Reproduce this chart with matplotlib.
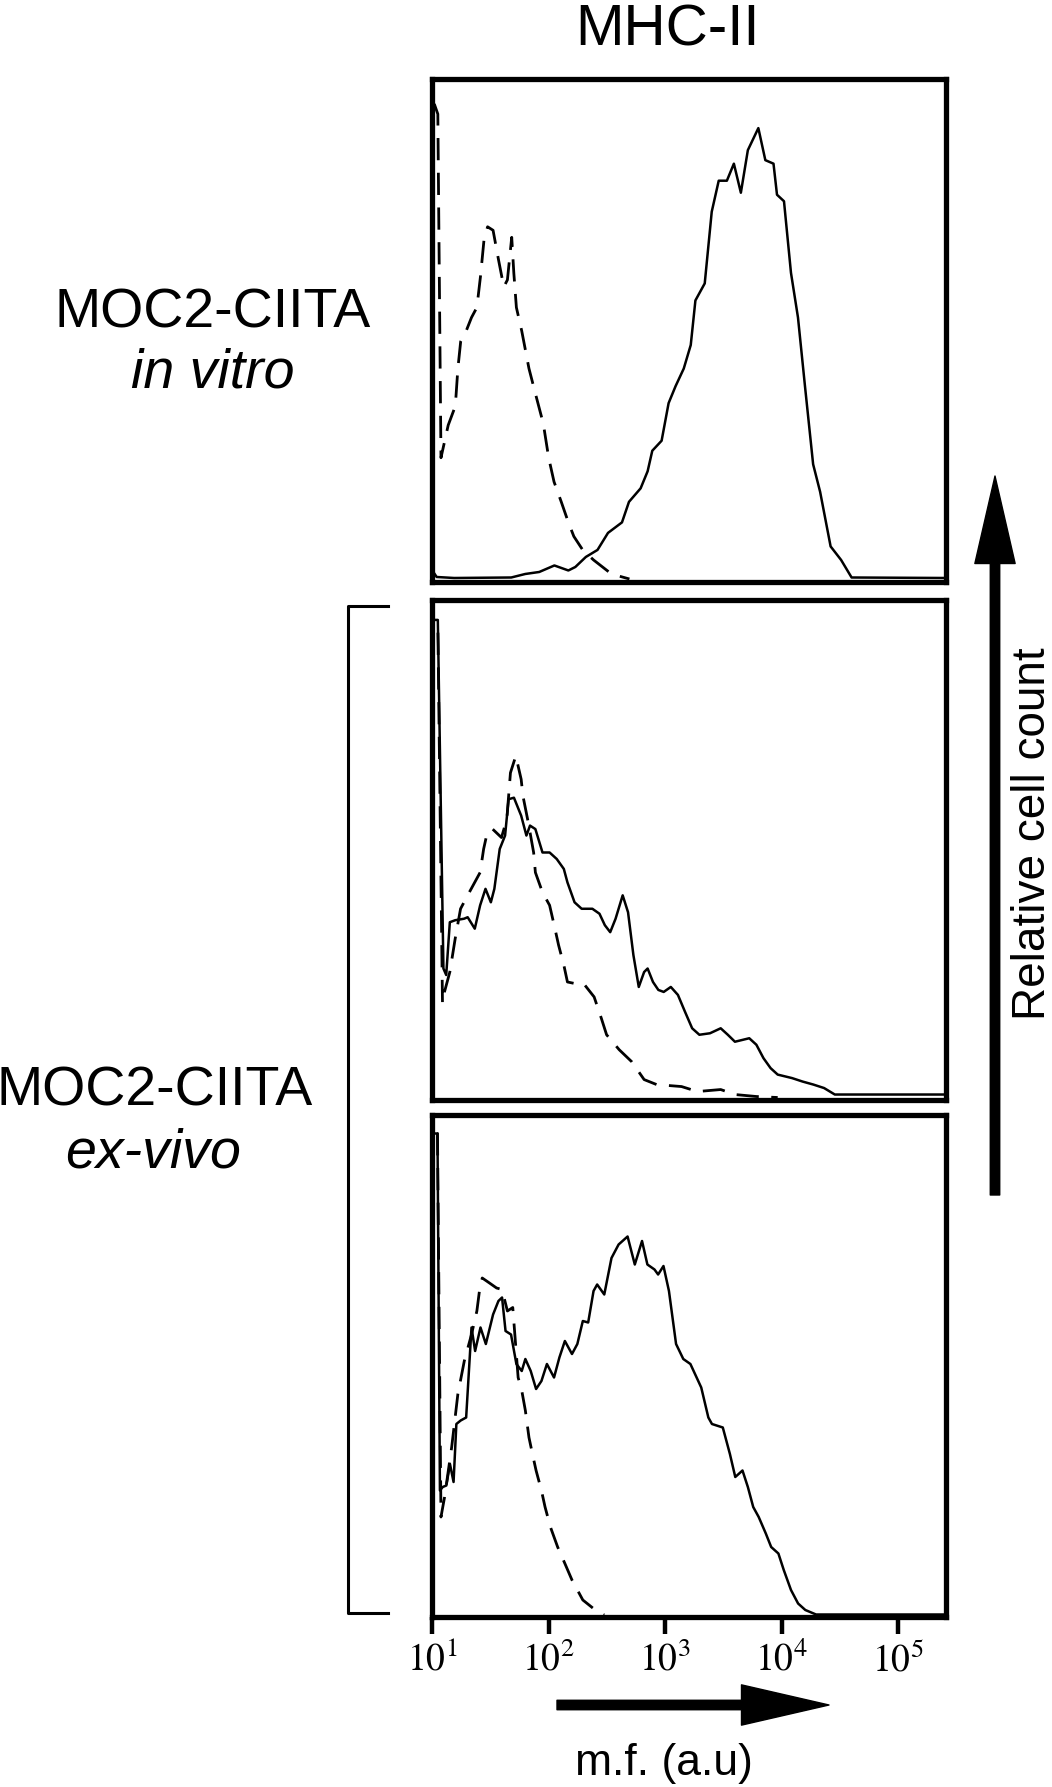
#!/usr/bin/env python3
"""MHC-II flow histograms: MOC2-CIITA in vitro vs ex-vivo."""
import matplotlib
matplotlib.use("Agg")
import matplotlib.pyplot as plt
import numpy as np
from matplotlib.lines import Line2D
from matplotlib.patches import FancyArrowPatch, ArrowStyle
from matplotlib.ticker import NullLocator

plt.rcParams["font.family"] = ["Liberation Sans", "DejaVu Sans"]
plt.rcParams["mathtext.fontset"] = "stix"

# x values are log10(m.f.), y values are relative cell count (0..1)
INVITRO_SOLID_LOG = [1.0, 1.04, 1.19, 1.68, 1.80, 1.92, 2.05, 2.17, 2.23, 2.32,
                     2.42, 2.51, 2.63, 2.69, 2.79, 2.85, 2.89, 2.97, 3.03, 3.09,
                     3.16, 3.22, 3.26, 3.34, 3.40, 3.46, 3.53, 3.59, 3.65, 3.71,
                     3.80, 3.86, 3.93, 3.96, 4.02, 4.08, 4.14, 4.20, 4.27, 4.33,
                     4.42, 4.51, 4.60, 5.41]
INVITRO_SOLID_CNT = [0.02, 0.006, 0.004, 0.005, 0.012, 0.016, 0.029, 0.019, 0.026, 0.046,
                     0.060, 0.094, 0.115, 0.156, 0.183, 0.217, 0.258, 0.278, 0.353, 0.387,
                     0.422, 0.469, 0.558, 0.592, 0.735, 0.797, 0.797, 0.831, 0.773, 0.858,
                     0.902, 0.838, 0.831, 0.769, 0.756, 0.613, 0.524, 0.387, 0.231, 0.176,
                     0.067, 0.040, 0.005, 0.004]
INVITRO_DASH_LOG = [1.0, 1.005, 1.05, 1.077, 1.139, 1.200, 1.222, 1.246, 1.293, 1.339,
                    1.385, 1.416, 1.447, 1.477, 1.524, 1.570, 1.616, 1.647, 1.684, 1.702,
                    1.724, 1.770, 1.832, 1.893, 1.955, 2.001, 2.047, 2.109, 2.170, 2.217,
                    2.293, 2.386, 2.540, 2.694]
INVITRO_DASH_CNT = [0.0, 0.96, 0.93, 0.244, 0.309, 0.347, 0.422, 0.476, 0.497, 0.524,
                    0.544, 0.606, 0.681, 0.705, 0.698, 0.640, 0.585, 0.599, 0.684, 0.613,
                    0.544, 0.497, 0.422, 0.367, 0.312, 0.244, 0.196, 0.156, 0.115, 0.087,
                    0.060, 0.040, 0.012, 0.002]

EXVIVO1_SOLID_LOG = [1.0, 1.005, 1.05, 1.098, 1.122, 1.153, 1.199, 1.275, 1.306, 1.367,
                     1.413, 1.459, 1.505, 1.535, 1.581, 1.627, 1.657, 1.703, 1.765, 1.810,
                     1.841, 1.887, 1.948, 2.009, 2.070, 2.131, 2.162, 2.223, 2.284, 2.376,
                     2.437, 2.483, 2.529, 2.575, 2.636, 2.682, 2.728, 2.774, 2.820, 2.850,
                     2.896, 2.942, 2.988, 3.049, 3.110, 3.171, 3.232, 3.294, 3.385, 3.477,
                     3.538, 3.599, 3.722, 3.783, 3.844, 3.905, 3.966, 4.089, 4.180, 4.272,
                     4.364, 4.456, 5.41]
EXVIVO1_SOLID_CNT = [0.0, 0.96, 0.96, 0.26, 0.247, 0.353, 0.357, 0.36, 0.363, 0.34,
                     0.387, 0.42, 0.393, 0.42, 0.50, 0.527, 0.60, 0.603, 0.567, 0.527,
                     0.547, 0.54, 0.493, 0.493, 0.48, 0.46, 0.433, 0.393, 0.38, 0.38,
                     0.37, 0.347, 0.333, 0.36, 0.407, 0.373, 0.287, 0.223, 0.253, 0.26,
                     0.233, 0.217, 0.213, 0.223, 0.207, 0.173, 0.14, 0.127, 0.13, 0.14,
                     0.127, 0.113, 0.12, 0.107, 0.08, 0.06, 0.047, 0.04, 0.033, 0.027,
                     0.02, 0.007, 0.007]
EXVIVO1_DASH_LOG = [1.0, 1.005, 1.05, 1.09, 1.107, 1.153, 1.199, 1.245, 1.306, 1.413,
                    1.443, 1.474, 1.520, 1.596, 1.642, 1.673, 1.719, 1.765, 1.780, 1.826,
                    1.872, 1.887, 1.948, 2.009, 2.055, 2.086, 2.131, 2.162, 2.223, 2.300,
                    2.391, 2.453, 2.498, 2.606, 2.713, 2.820, 2.927, 3.141, 3.278, 3.477,
                    3.599, 3.783, 3.966]
EXVIVO1_DASH_CNT = [0.0, 0.95, 0.95, 0.19, 0.213, 0.253, 0.32, 0.38, 0.407, 0.453,
                    0.50, 0.533, 0.54, 0.523, 0.56, 0.653, 0.687, 0.64, 0.607, 0.553,
                    0.493, 0.453, 0.413, 0.387, 0.34, 0.307, 0.267, 0.233, 0.23, 0.23,
                    0.203, 0.16, 0.127, 0.097, 0.073, 0.037, 0.027, 0.023, 0.013, 0.017,
                    0.007, 0.003, 0.001]

EXVIVO2_SOLID_LOG = [1.0, 1.005, 1.047, 1.068, 1.092, 1.123, 1.154, 1.185, 1.209, 1.246,
                     1.293, 1.339, 1.370, 1.416, 1.462, 1.524, 1.570, 1.601, 1.631, 1.678,
                     1.724, 1.770, 1.801, 1.847, 1.893, 1.939, 1.986, 2.047, 2.093, 2.140,
                     2.201, 2.247, 2.294, 2.340, 2.386, 2.417, 2.478, 2.540, 2.601, 2.678,
                     2.740, 2.802, 2.848, 2.909, 2.940, 2.986, 3.033, 3.094, 3.156, 3.217,
                     3.310, 3.371, 3.402, 3.495, 3.556, 3.602, 3.664, 3.710, 3.756, 3.803,
                     3.864, 3.910, 3.972, 4.018, 4.080, 4.141, 4.203, 4.295, 5.41]
EXVIVO2_SOLID_CNT = [0.0, 0.963, 0.963, 0.249, 0.256, 0.259, 0.302, 0.266, 0.382, 0.389,
                     0.395, 0.575, 0.528, 0.575, 0.542, 0.601, 0.628, 0.635, 0.568, 0.561,
                     0.502, 0.488, 0.512, 0.488, 0.452, 0.468, 0.502, 0.475, 0.515, 0.548,
                     0.522, 0.542, 0.588, 0.585, 0.648, 0.661, 0.641, 0.714, 0.741, 0.757,
                     0.701, 0.748, 0.701, 0.691, 0.681, 0.698, 0.648, 0.542, 0.512, 0.502,
                     0.455, 0.395, 0.382, 0.375, 0.322, 0.276, 0.289, 0.256, 0.216, 0.196,
                     0.163, 0.136, 0.123, 0.09, 0.05, 0.023, 0.01, 0.001, 0.001]
EXVIVO2_DASH_LOG = [1.0, 1.005, 1.047, 1.077, 1.108, 1.169, 1.222, 1.277, 1.339, 1.385,
                    1.407, 1.431, 1.493, 1.554, 1.601, 1.647, 1.693, 1.739, 1.770, 1.801,
                    1.832, 1.862, 1.893, 1.939, 1.970, 2.016, 2.078, 2.140, 2.201, 2.294,
                    2.417, 2.478]
EXVIVO2_DASH_CNT = [0.0, 0.963, 0.963, 0.196, 0.236, 0.336, 0.442, 0.508, 0.561, 0.608,
                    0.648, 0.674, 0.664, 0.654, 0.651, 0.608, 0.615, 0.475, 0.449, 0.409,
                    0.355, 0.322, 0.289, 0.249, 0.216, 0.176, 0.136, 0.103, 0.07, 0.03,
                    0.007, 0.0]

TICK_EXP = [1, 2, 3, 4, 5]
X_MAX_LOG = 5.41

PANELS = [
    (INVITRO_SOLID_LOG, INVITRO_SOLID_CNT, INVITRO_DASH_LOG, INVITRO_DASH_CNT),
    (EXVIVO1_SOLID_LOG, EXVIVO1_SOLID_CNT, EXVIVO1_DASH_LOG, EXVIVO1_DASH_CNT),
    (EXVIVO2_SOLID_LOG, EXVIVO2_SOLID_CNT, EXVIVO2_DASH_LOG, EXVIVO2_DASH_CNT),
]

W, H = 1052, 1787
fig = plt.figure(figsize=(W / 100, H / 100), dpi=100)


def fx(px):
    return px / W


def fy(py):
    return 1 - py / H


# panel frames in pixel rows (top, bottom)
rows = [(79, 582), (600, 1100), (1115, 1617)]
left_px, right_px = 432, 946

axes = []
for (top, bot), (s_log, s_cnt, d_log, d_cnt) in zip(rows, PANELS):
    ax = fig.add_axes([fx(left_px), fy(bot), fx(right_px - left_px), (bot - top) / H])
    ax.plot(10 ** np.array(d_log), d_cnt, color="black", lw=2.0, ls=(0, (8, 4.5)))
    ax.plot(10 ** np.array(s_log), s_cnt, color="black", lw=1.8)
    ax.set_xscale("log")
    ax.set_xlim(10, 10 ** X_MAX_LOG)
    ax.set_ylim(-0.004, 1.0)
    ax.xaxis.set_minor_locator(NullLocator())
    ax.set_yticks([])
    for sp in ax.spines.values():
        sp.set_linewidth(3.8)
    axes.append(ax)

for ax in axes[:2]:
    ax.set_xticks([])

ax3 = axes[2]
ax3.set_xticks([10.0 ** k for k in TICK_EXP])
ax3.set_xticklabels([f"$10^{{{k}}}$" for k in TICK_EXP])
ax3.tick_params(axis="x", which="major", direction="out", length=12, width=3.2,
                labelsize=27, pad=6)

# titles and labels
fig.text(fx(667), fy(46), "MHC-II", ha="center", va="baseline", fontsize=42)
fig.text(fx(213), fy(327), "MOC2-CIITA", ha="center", va="baseline", fontsize=40)
fig.text(fx(213), fy(388), "in vitro", ha="center", va="baseline", fontsize=40, style="italic")
fig.text(fx(155), fy(1106), "MOC2-CIITA", ha="center", va="baseline", fontsize=40)
fig.text(fx(153), fy(1168), "ex-vivo", ha="center", va="baseline", fontsize=40, style="italic")
fig.text(fx(664), fy(1775), "m.f. (a.u)", ha="center", va="baseline", fontsize=32)
fig.text(fx(1045), fy(834), "Relative cell count", ha="center", va="baseline",
         rotation=90, rotation_mode="anchor", fontsize=33)

# bracket grouping the ex-vivo panels
fig.add_artist(Line2D([fx(388), fx(348), fx(348), fx(388)],
                      [fy(606), fy(606), fy(1613), fy(1613)],
                      transform=fig.transFigure, color="black", lw=2.2))

# axis arrows
arrow_style = ArrowStyle.Simple(head_length=63, head_width=29, tail_width=6.8)
fig.add_artist(FancyArrowPatch((fx(557), fy(1705)), (fx(829), fy(1705)),
                               transform=fig.transFigure, arrowstyle=arrow_style,
                               mutation_scale=1, color="black", shrinkA=0, shrinkB=0))
fig.add_artist(FancyArrowPatch((fx(995), fy(1195)), (fx(995), fy(476)),
                               transform=fig.transFigure, arrowstyle=arrow_style,
                               mutation_scale=1, color="black", shrinkA=0, shrinkB=0))

fig.savefig("out.png", dpi=100)
plt.close(fig)
